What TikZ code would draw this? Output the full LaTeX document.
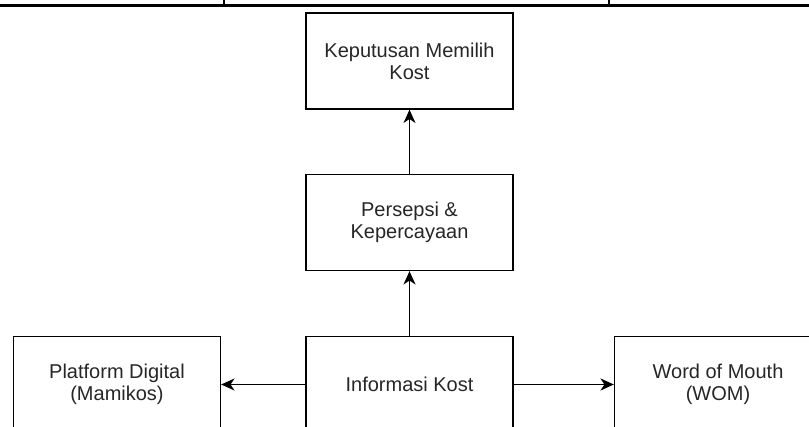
\documentclass[tikz,border=0pt]{standalone}
\usepackage{fontspec}
\setmainfont{Liberation Sans}
\usetikzlibrary{arrows.meta}
\tikzset{
  box/.style={draw, line width=1pt, minimum width=155.25pt, minimum height=72pt,
    align=center, text=black!85, font=\fontsize{15}{16.5}\selectfont},
  arr/.style={-{Stealth[length=10pt,width=9pt,inset=3pt]}, line width=1.2pt}
}
\begin{document}
\begin{tikzpicture}[x=0.75pt,y=-0.75pt]
            \useasboundingbox (0,0) rectangle (809,427);
            \draw[line width=1.6pt] (0,5.5) -- (809,5.5);
            \draw[line width=1.6pt] (224,0) -- (224,5.5);
            \draw[line width=1.6pt] (609,0) -- (609,5.5);
            \node[box] (kep) at (409.5,61) {Keputusan Memilih\\Kost};
            \node[box] (per) at (409.5,222.5) {Persepsi \&\\Kepercayaan};
            \node[box] (info) at (409.5,384.5) {Informasi Kost};
            \node[box] (plat) at (117,384.5) {Platform Digital\\(Mamikos)};
            \node[box] (wom) at (718,384.5) {Word of Mouth\\(WOM)};
            \draw[arr] (info) -- (plat);
            \draw[arr] (info) -- (wom);
            \draw[arr] (info) -- (per);
            \draw[arr] (per) -- (kep);
        \end{tikzpicture}
\end{document}
